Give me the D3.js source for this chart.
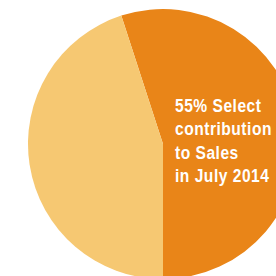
<!DOCTYPE html>
<html><head><meta charset="utf-8">
<script src="https://cdn.jsdelivr.net/npm/d3@7"></script>
<style>html,body{margin:0;padding:0;background:#fff;overflow:hidden}</style>
</head><body>
<svg id="c" width="276" height="276"></svg>
<script>
const categories = ["Select", "Other"];
const values = [55, 45];
const colors = ["#E98518", "#F6C872"];
const labelLines = ["55% Select", "contribution", "to Sales", "in July 2014"];

const svg = d3.select("#c");
const cx = 163, cy = 144, r = 135;
const offset = -0.05 * 2 * Math.PI;
const pie = d3.pie().sort(null).value(d => d)
  .startAngle(offset).endAngle(offset + 2 * Math.PI);
const arc = d3.arc().innerRadius(0).outerRadius(r);
const g = svg.append("g").attr("transform", `translate(${cx},${cy})`);
g.selectAll("path").data(pie(values)).join("path")
  .attr("d", arc).attr("fill", (d, i) => colors[i]);

const tx = 175;
const tg = svg.append("g");
const t = tg.append("text")
  .attr("x", tx).attr("y", 112)
  .attr("fill", "#fff")
  .attr("font-family", "'Liberation Sans', Arial, sans-serif")
  .attr("font-weight", "bold")
  .attr("font-size", 18.5)
  .attr("letter-spacing", 0.6);
const spans = t.selectAll("tspan").data(labelLines).join("tspan")
  .attr("x", tx).attr("dy", (d, i) => i === 0 ? 0 : 23.4)
  .text(d => d);
const w = spans.nodes()[1].getComputedTextLength();
const sx = 97 / w;
tg.attr("transform", `translate(${tx},0) scale(${sx},1) translate(${-tx},0)`);
</script>
</body></html>
